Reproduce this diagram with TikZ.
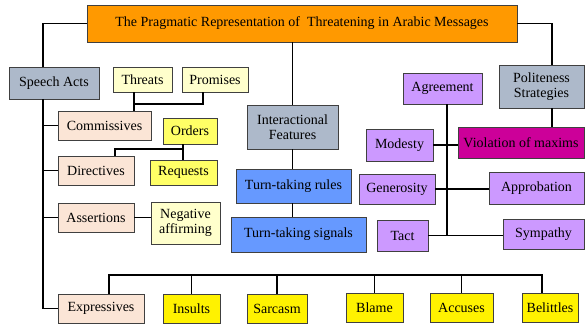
\documentclass[tikz,border=0pt]{standalone}
\usepackage{fontspec}
\setmainfont{Liberation Serif}
\usetikzlibrary{positioning}

\definecolor{toporange}{HTML}{FF9900}
\definecolor{grayblue}{HTML}{ADB9CA}
\definecolor{paleyellow}{HTML}{FFFFCC}
\definecolor{midyellow}{HTML}{FFFF66}
\definecolor{peach}{HTML}{FBE5D6}
\definecolor{turnblue}{HTML}{6699FF}
\definecolor{lilac}{HTML}{CC99FF}
\definecolor{magenta}{HTML}{CC0099}

\tikzset{
  box/.style={draw=black!75, line width=0.8pt, inner sep=0pt, align=center,
    font=\fontsize{14}{15.5}\selectfont},
  headbox/.style={box, fill=grayblue},
  palebox/.style={box, fill=paleyellow},
  ylwbox/.style={box, fill=midyellow},
  brightbox/.style={box, fill=yellow},
  actbox/.style={box, fill=peach},
  turnbox/.style={box, fill=turnblue},
  maximbox/.style={box, fill=lilac},
  link/.style={line width=1.5pt}
}

\begin{document}
\begin{tikzpicture}[x=1pt, y=-1pt]
  \useasboundingbox (0,0) rectangle (585,325);

  \node[box, fill=toporange, minimum width=430pt, minimum height=37pt] (title) at (302,23.5)
    {The Pragmatic Representation of \ Threatening in Arabic Messages};

  % speech acts
  \node[headbox, minimum width=90pt, minimum height=32pt] (speech) at (54,83) {Speech Acts};
  \node[palebox, minimum width=59pt, minimum height=25pt] (threats) at (142.5,79.5) {Threats};
  \node[palebox, minimum width=66pt, minimum height=25pt] (promises) at (215,79.5) {Promises};
  \node[actbox, minimum width=93pt, minimum height=29pt] (commis) at (104.5,125.5) {Commissives};
  \node[ylwbox, minimum width=54pt, minimum height=26pt] (orders) at (190,131) {Orders};
  \node[actbox, minimum width=76pt, minimum height=29pt] (direct) at (96,170.5) {Directives};
  \node[ylwbox, minimum width=67pt, minimum height=25pt] (requests) at (183.5,172.5) {Requests};
  \node[actbox, minimum width=76pt, minimum height=29pt] (assert) at (96,217.5) {Assertions};
  \node[palebox, minimum width=69pt, minimum height=42pt] (negaff) at (185.5,223) {Negative\\affirming};
  \node[actbox, minimum width=86pt, minimum height=29pt] (express) at (101,308.5) {Expressives};
  \node[brightbox, minimum width=57pt, minimum height=29pt] (insults) at (191.5,308.5) {Insults};
  \node[brightbox, minimum width=60pt, minimum height=29pt] (sarcasm) at (277,308.5) {Sarcasm};
  \node[brightbox, minimum width=57pt, minimum height=29pt] (blame) at (374.5,307.5) {Blame};
  \node[brightbox, minimum width=63pt, minimum height=29pt] (accuses) at (461.5,307.5) {Accuses};
  \node[brightbox, minimum width=56pt, minimum height=29pt] (belittles) at (550,307.5) {Belittles};

  % interactional features
  \node[headbox, minimum width=91pt, minimum height=44pt] (inter) at (292.5,127) {Interactional\\Features};
  \node[turnbox, minimum width=115pt, minimum height=34pt] (rules) at (293.5,186) {Turn-taking rules};
  \node[turnbox, minimum width=135pt, minimum height=35pt] (signals) at (298.5,234.5) {Turn-taking signals};

  % politeness strategies
  \node[headbox, minimum width=85pt, minimum height=43pt] (polite) at (541.5,86.5) {Politeness\\Strategies};
  \node[box, fill=magenta, minimum width=126pt, minimum height=31pt] (violation) at (521,142.5) {Violation of maxims};
  \node[maximbox, minimum width=79pt, minimum height=31pt] (agree) at (442.5,88.5) {Agreement};
  \node[maximbox, minimum width=67pt, minimum height=32pt] (modesty) at (399.5,145) {Modesty};
  \node[maximbox, minimum width=76pt, minimum height=30pt] (generosity) at (397,189) {Generosity};
  \node[maximbox, minimum width=95pt, minimum height=32pt] (approb) at (536.5,188) {Approbation};
  \node[maximbox, minimum width=51pt, minimum height=31pt] (tact) at (402.5,235.5) {Tact};
  \node[maximbox, minimum width=81pt, minimum height=30pt] (sympathy) at (543.5,234) {Sympathy};

  \coordinate (sa) at (43,99);
  \coordinate (cm) at (134,104);
  \coordinate (ob) at (183,149);
  \coordinate (ebl) at (109,275);
  \coordinate (ebr) at (542,275);
  \coordinate (ps) at (552,23.5);
  \coordinate (pv) at (447,236);

  \draw[link] (title.west) -| (speech.north -| sa);
  \draw[link] (speech.south -| sa) |- (express.west);
  \foreach \n in {commis, direct, assert}
    \draw[link] (\n.west) -- (\n.west -| sa);
  \draw[link] (threats.south -| cm) -- (cm) -| (promises.south -| 203,0);
  \draw[link] (cm) -- (commis.north -| cm);
  \draw[link] (orders.south -| ob) -- (requests.north -| ob);
  \draw[link] (ob) -| (direct.north -| 115,0);
  \draw[link] (assert.east) -- (assert.east -| negaff.west);
  \draw[link] (express.north -| ebl) -- (ebl) -- (ebr) -- (belittles.north -| ebr);
  \foreach \n in {insults, sarcasm, blame, accuses}
    \draw[link] (\n.north) -- (\n.north |- ebl);

  \draw[link] (title.south -| inter.north) -- (inter.north);
  \draw[link] (inter.south) -- (rules.north -| inter.south);
  \draw[link] (rules.south -| inter.south) -- (signals.north -| inter.south);

  \draw[link] (title.east) -- (ps) -- (polite.north -| ps);
  \draw[link] (polite.south -| ps) -- (violation.north -| ps);
  \draw[link] (agree.south -| pv) -- (pv);
  \draw[link] (modesty.east) -- (modesty.east -| violation.west);
  \draw[link] (generosity.east) -- (generosity.east -| approb.west);
  \draw[link] (tact.east) -- (tact.east -| sympathy.west);
\end{tikzpicture}
\end{document}
